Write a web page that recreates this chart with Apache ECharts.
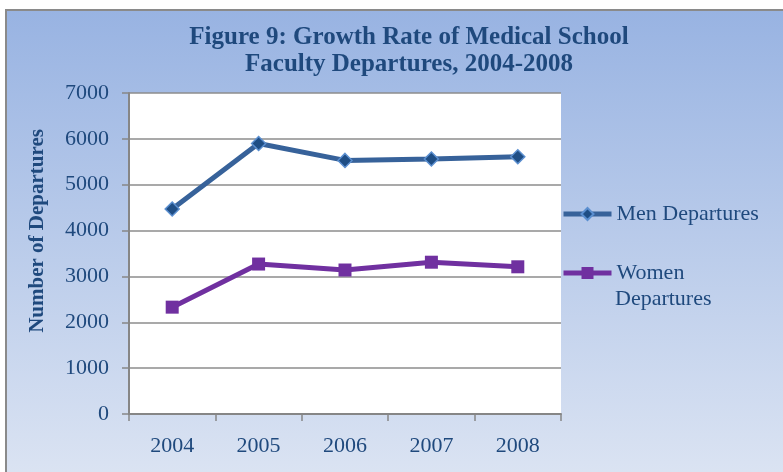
<!DOCTYPE html>
<html>
<head>
<meta charset="utf-8">
<script src="https://cdn.jsdelivr.net/npm/echarts@6/dist/echarts.min.js"></script>
<style>
  html, body { margin: 0; padding: 0; background: #fff; }
  #chart { width: 783px; height: 472px; }
</style>
</head>
<body>
<div id="chart"></div>
<script>
const years = ['2004', '2005', '2006', '2007', '2008']
const menDepartures = [4470, 5900, 5530, 5560, 5610]
const womenDepartures = [2330, 3270, 3140, 3310, 3210]
const yTicks = { min: 0, max: 7000, interval: 1000 }

const serif = 'Liberation Serif'
const navy = '#1F497D'

const legendText = { fontFamily: serif, fontSize: 22, lineHeight: 24, color: navy }

const myChart = echarts.init(document.getElementById('chart'))
myChart.setOption({
  animation: false,
  graphic: [
    {
      type: 'rect',
      z: -10,
      shape: { x: 6, y: 10, width: 800, height: 480 },
      style: {
        stroke: '#8a8a8a',
        lineWidth: 2,
        fill: new echarts.graphic.LinearGradient(0, 0, 0, 1, [
          { offset: 0, color: '#98b3e2' },
          { offset: 1, color: '#dde5f3' }
        ])
      }
    },
    {
      type: 'text',
      x: 38,
      y: 231,
      rotation: Math.PI / 2,
      style: {
        text: 'Number of Departures',
        font: 'bold 21px "Liberation Serif"',
        fill: navy,
        align: 'center',
        verticalAlign: 'middle'
      }
    },
    {
      // second line of the Women legend entry
      type: 'text',
      x: 615,
      y: 299,
      style: {
        text: 'Departures',
        font: '22px "Liberation Serif"',
        fill: navy,
        align: 'left',
        verticalAlign: 'middle'
      }
    }
  ],
  title: {
    text: 'Figure 9: Growth Rate of Medical School\nFaculty Departures, 2004-2008',
    left: 404,
    top: 19,
    textAlign: 'center',
    textStyle: {
      fontFamily: serif,
      fontWeight: 'bold',
      fontSize: 25,
      lineHeight: 27,
      color: navy
    }
  },
  legend: [
    {
      left: 561,
      top: 202,
      padding: 0,
      itemWidth: 48,
      itemHeight: 15,
      data: ['Men Departures'],
      lineStyle: { width: 5 },
      textStyle: legendText
    },
    {
      left: 561,
      top: 261,
      padding: 0,
      itemWidth: 48,
      itemHeight: 15,
      data: ['Women Departures'],
      lineStyle: { width: 5 },
      formatter: function(name) {
        return name.split(' ')[0]
      },
      textStyle: legendText
    }
  ],
  grid: {
    left: 129,
    right: 222,
    top: 93,
    bottom: 58,
    show: true,
    backgroundColor: '#ffffff',
    borderWidth: 0
  },
  xAxis: {
    type: 'category',
    data: years,
    boundaryGap: true,
    axisLine: { lineStyle: { color: '#868686', width: 2 } },
    axisTick: { show: true, length: 7, lineStyle: { color: '#868686', width: 1.5 } },
    axisLabel: { margin: 21, fontFamily: serif, fontSize: 22, color: navy },
    splitLine: { show: false }
  },
  yAxis: {
    type: 'value',
    min: yTicks.min,
    max: yTicks.max,
    interval: yTicks.interval,
    axisLine: { show: true, lineStyle: { color: '#868686', width: 2 } },
    axisTick: { show: true, length: 7, lineStyle: { color: '#868686', width: 1.5 } },
    axisLabel: {
      margin: 20,
      fontFamily: serif,
      fontSize: 22,
      color: navy,
      formatter: function(v) { return String(v) }
    },
    splitLine: { lineStyle: { color: '#8c8c8c', width: 1.5 } }
  },
  series: [
    {
      name: 'Men Departures',
      type: 'line',
      data: menDepartures,
      symbol: 'diamond',
      symbolSize: 14,
      lineStyle: { color: '#37629a', width: 5 },
      itemStyle: { color: '#1f4e85', borderColor: '#5b8fd0', borderWidth: 1.5 }
    },
    {
      name: 'Women Departures',
      type: 'line',
      data: womenDepartures,
      symbol: 'rect',
      symbolSize: 13,
      lineStyle: { color: '#7030a0', width: 5 },
      itemStyle: { color: '#7030a0' }
    }
  ]
})
</script>
</body>
</html>
